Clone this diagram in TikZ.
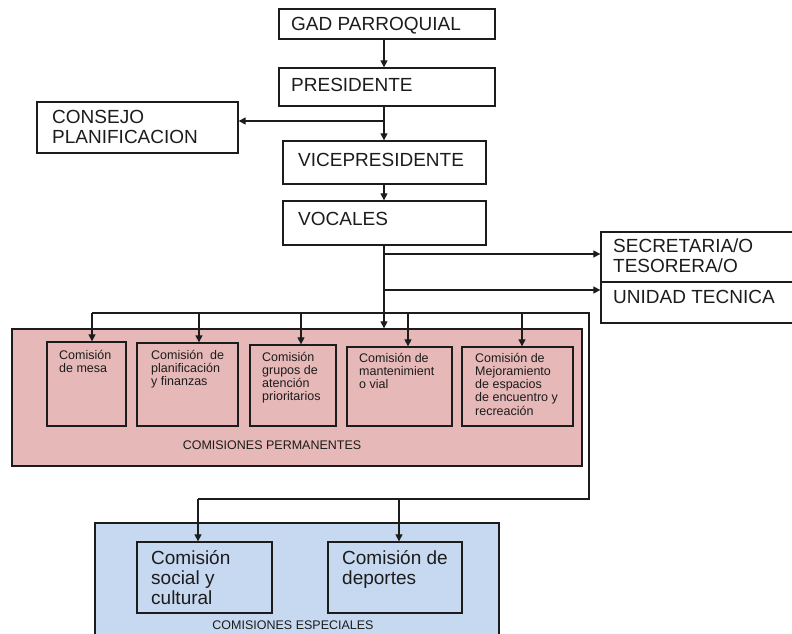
\documentclass[tikz,border=0pt]{standalone}
\usepackage{fontspec}
\setmainfont{Liberation Sans}
\usetikzlibrary{arrows.meta,calc,fit}
\definecolor{permfill}{RGB}{230,184,183}
\definecolor{espfill}{RGB}{198,217,241}
\definecolor{ink}{RGB}{28,28,28}

\begin{document}
\begin{tikzpicture}[x=1pt,y=-1pt,
  box/.style={draw=ink,line width=1.3pt,rectangle,inner sep=0pt},
  link/.style={draw=ink,line width=1.2pt},
  arr/.style={link,-{Triangle[length=7pt,width=7pt]}},
  big/.style={font=\fontsize{19}{20}\selectfont,inner sep=0pt,text=ink,align=left},
  mid/.style={font=\fontsize{19}{20.3}\selectfont,inner sep=0pt,text=ink,align=left},
  small/.style={font=\fontsize{12.5}{13.3}\selectfont,inner sep=0pt,text=ink,align=left}
]
\useasboundingbox (0,0) rectangle (792,634);
\clip (0,0) rectangle (792,634);

% group frames
\node[box,fill=permfill,fit={(12,329) (582,466)}] (perm) {};
\node[box,fill=espfill,fit={(95,523) (499,645)}] (esp) {};

% hierarchy boxes
\node[box,fit={(279,9) (495,39)}] (gad) {};
\node[box,fit={(279,68) (495,106)}] (pres) {};
\node[box,fit={(37,102) (238,153)}] (consejo) {};
\node[box,fit={(283,141) (486,184)}] (vice) {};
\node[box,fit={(283,201) (486,245)}] (voc) {};
\node[box,fit={(601,232) (800,282)}] (sec) {};
\node[box,fit={(601,282) (800,323)}] (uni) {};

% permanent commissions
\node[box,fit={(47,342) (126,426)}] (c1) {};
\node[box,fit={(137,343) (238,426)}] (c2) {};
\node[box,fit={(250,345) (336,426)}] (c3) {};
\node[box,fit={(347,347) (452,426)}] (c4) {};
\node[box,fit={(462,347) (573,426)}] (c5) {};

% special commissions
\node[box,fit={(137,542) (272,613)}] (s1) {};
\node[box,fit={(328,542) (462,613)}] (s2) {};

% texts (multi-line nodes are anchored at the baseline of their last line)
\node[big,anchor=base west] (gadt) at (291,31) {GAD PARROQUIAL};
\node[big,anchor=base west] (prest) at (291,91) {PRESIDENTE};
\node[big,anchor=base west] (vicet) at (298,166) {VICEPRESIDENTE};
\node[big,anchor=base west] (voct) at (298,225) {VOCALES};
\node[big,anchor=base west] (consejot) at (52,143) {CONSEJO\\PLANIFICACION};
\node[big,anchor=base west] (sect) at (613,272) {SECRETARIA/O\\TESORERA/O};
\node[big,anchor=base west] (unit) at (613,303) {UNIDAD TECNICA};

\node[small,anchor=base west] (c1t) at (59,372.3) {Comisión\\de mesa};
\node[small,anchor=base west] (c2t) at (151,385.6) {Comisión~~de\\planificación\\y finanzas};
\node[small,anchor=base west] (c3t) at (262,400.9) {Comisión\\grupos de\\atención\\prioritarios};
\node[small,anchor=base west] (c4t) at (359,388.6) {Comisión de\\mantenimient\\o vial};
\node[small,anchor=base west] (c5t) at (475,415.2) {Comisión de\\Mejoramiento\\de espacios\\de encuentro y\\recreación};
\node[small] (permt) at (272,445) {COMISIONES PERMANENTES};

\node[mid,anchor=base west] (s1t) at (151,604.6) {Comisión\\social y\\cultural};
\node[mid,anchor=base west] (s2t) at (342,584.3) {Comisión de\\deportes};
\node[small] (espt) at (293,625) {COMISIONES ESPECIALES};

% main spine
\coordinate (spine) at (384,0);
\draw[arr] (gad.south -| spine) -- (pres.north -| spine);
\draw[arr] (pres.south -| spine) -- (vice.north -| spine);
\draw[arr] (vice.south -| spine) -- (voc.north -| spine);
\draw[arr] (voc.south -| spine) -- (perm.north -| spine);
\coordinate (jc) at (384,121);
\draw[arr] (jc) -- (jc -| consejo.east);
\coordinate (js) at (384,254);
\draw[arr] (js) -- (js -| sec.west);
\coordinate (ju) at (384,290);
\draw[arr] (ju) -- (ju -| uni.west);

% distribution to commissions
\coordinate (dl) at (92,313);
\coordinate (dr) at (589,313);
\coordinate (br) at (589,499);
\coordinate (bl) at (198,499);
\draw[link] (dl) -- (dr) -- (br) -- (bl);
\coordinate (t1) at (92,313);
\coordinate (t2) at (199,313);
\coordinate (t3) at (301,313);
\coordinate (t4) at (408,313);
\coordinate (t5) at (522,313);
\draw[arr] (t1) -- (t1 |- c1.north);
\draw[arr] (t2) -- (t2 |- c2.north);
\draw[arr] (t3) -- (t3 |- c3.north);
\draw[arr] (t4) -- (t4 |- c4.north);
\draw[arr] (t5) -- (t5 |- c5.north);
\coordinate (u1) at (198,499);
\coordinate (u2) at (399,499);
\draw[arr] (u1) -- (u1 |- s1.north);
\draw[arr] (u2) -- (u2 |- s2.north);
\end{tikzpicture}
\end{document}
